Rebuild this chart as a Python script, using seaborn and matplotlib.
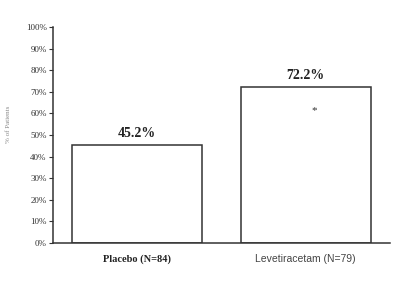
import matplotlib
matplotlib.use("Agg")
import matplotlib.pyplot as plt
import seaborn as sns
import pandas as pd

categories = ["Placebo (N=84)", "Levetiracetam (N=79)"]
values = [45.2, 72.2]
value_labels = ["45.2%", "72.2%"]
ytick_values = [0, 10, 20, 30, 40, 50, 60, 70, 80, 90, 100]
ytick_labels = ["0%", "10%", "20%", "30%", "40%", "50%", "60%", "70%", "80%", "90%", "100%"]

sns.set_style("white")
plt.rcParams['font.family'] = ['Liberation Serif', 'DejaVu Serif']

df = pd.DataFrame({"group": categories, "pct": values})

fig = plt.figure(figsize=(4.0, 2.91), dpi=100)
ax = fig.add_axes([0.1325, 0.165, 0.8425, 0.742])
sns.barplot(data=df, x="group", y="pct", color="white", edgecolor="#333333",
            linewidth=1.1, width=0.77, ax=ax, saturation=1)

ax.set_ylim(0, 100)
ax.set_xlim(-0.5, 1.5)
ax.set_yticks(ytick_values)
ax.set_yticklabels(ytick_labels, fontsize=6.5, color="#333333")
ax.tick_params(axis="y", length=3, width=0.8, color="#333333", pad=1.5, direction="out", left=True)
ax.tick_params(axis="x", length=0, pad=8)
ax.set_xticks([0, 1])
ax.set_xticklabels(categories, fontsize=7.5, color="#222222")
lbls = ax.get_xticklabels()
lbls[0].set_fontweight("bold")
lbls[1].set_fontfamily(["Liberation Sans", "DejaVu Sans"])
lbls[1].set_color("#444444")

for s in ["top", "right"]:
    ax.spines[s].set_visible(False)
for s in ["left", "bottom"]:
    ax.spines[s].set_color("#333333")
    ax.spines[s].set_linewidth(1.1)

ax.set_xlabel("")
ax.set_ylabel("% of Patients", fontsize=5, color="#888888")
ax.yaxis.set_label_coords(-0.125, 0.55)

for i, (v, t) in enumerate(zip(values, value_labels)):
    ax.text(i, v + 2.5, t, ha="center", va="bottom", fontsize=10, fontweight="bold", color="#222222")

ax.text(1.05, 61.5, "*", ha="center", va="center", fontsize=8, color="#333333")

fig.savefig("out.png", dpi=100)
